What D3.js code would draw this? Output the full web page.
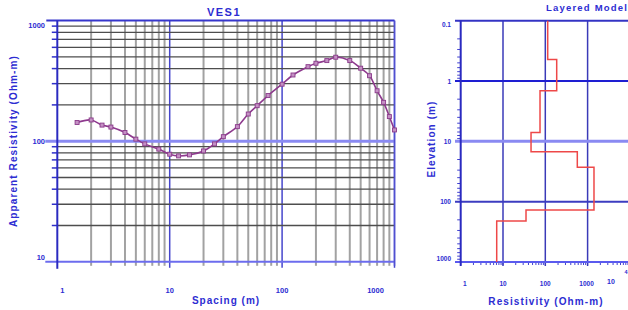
<!DOCTYPE html>
<html><head><meta charset="utf-8">
<script src="https://cdn.jsdelivr.net/npm/d3@7"></script>
<style>
body{margin:0;background:#fff}
svg{display:block}
text{font-family:"Liberation Sans",Arial,sans-serif;font-weight:bold;fill:#2d2dd2}
</style>
</head><body>
<svg id="c" width="628" height="310"></svg>
<script>
// ---- data ----
const spacing = [1.5,2,2.5,3,4,5,6,8,10,12,15,20,25,30,40,50,60,75,100,125,170,200,250,300,400,500,600,700,800,900,1000];
const apparentRes = [143,150,136,131,118,104,95,86,78,75.5,77,83,95,109,132,168,197,239,297,354,415,443,466,497,466,403,349,262,210,160,124];
const layerRes = [114,186,75,46,571,1416,35,7.1];
const layerTop = [0.1,0.44,1.45,7.1,14.9,27,138,210];
const modelBottom = 1000;
const xTickValues = [1,10,100,1000];
const xTickLabels = ["1","10","100","1000"];
const yTickValues = [10,100,1000];
const yTickLabels = ["10","100","1000"];
const resTickValues = [1,10,100,1000,10000];
const resTickLabels = ["1","10","100","1000","10"];
const elevTickValues = [0.1,1,10,100,1000];
const elevTickLabels = ["0.1","1","10","100","1000"];

const svg = d3.select("#c");

// ---- left chart: VES1 ----
const x = d3.scaleLog().domain([1,1000]).range([57.3,394.5]);
const y = d3.scaleLog().domain([10,1000]).range([261.8,20.6]);
const g = svg.append("g");

// vertical grid
x.ticks().forEach(v=>{
  const dec = Math.abs(Math.log10(v)-Math.round(Math.log10(v)))<1e-9;
  if (v===1) return;
  g.append("line").attr("x1",x(v)).attr("x2",x(v)).attr("y1",y(1000)).attr("y2",y(10)+(dec?6:4))
    .attr("stroke",dec?"#4646cc":"#a2a2a2").attr("stroke-width",dec?1.5:2);
});
// horizontal grid
y.ticks().forEach(v=>{
  const dec = Math.abs(Math.log10(v)-Math.round(Math.log10(v)))<1e-9;
  if (dec) return;
  g.append("line").attr("x1",x(1)).attr("x2",x(1000)).attr("y1",y(v)).attr("y2",y(v))
    .attr("stroke","#4e4e4e").attr("stroke-width",1.3);
  g.append("line").attr("x1",x(1)-5.5).attr("x2",x(1)).attr("y1",y(v)).attr("y2",y(v))
    .attr("stroke","#3030c8").attr("stroke-width",1.5);
});
// decade horizontal lines
g.append("line").attr("x1",x(1)-12).attr("x2",x(1000)).attr("y1",y(100)).attr("y2",y(100))
  .attr("stroke","#8a8af2").attr("stroke-width",3);
g.append("line").attr("x1",x(1)-12).attr("x2",x(1000)).attr("y1",y(10)).attr("y2",y(10))
  .attr("stroke","#6c6cee").attr("stroke-width",2);
g.append("line").attr("x1",x(1)-11).attr("x2",x(1000)).attr("y1",y(1000)).attr("y2",y(1000))
  .attr("stroke","#3636cc").attr("stroke-width",2);
// borders
g.append("line").attr("x1",x(1)).attr("x2",x(1)).attr("y1",y(1000)).attr("y2",y(10)+7)
  .attr("stroke","#2a2ac0").attr("stroke-width",2);
g.append("line").attr("x1",x(1000)).attr("x2",x(1000)).attr("y1",y(1000)).attr("y2",y(10)+4)
  .attr("stroke","#5050d0").attr("stroke-width",1.5);

// tick labels
const xdx = [5,0,0,-19];
xTickValues.forEach((v,i)=>{
  g.append("text").attr("x",x(v)+xdx[i]).attr("y",293).attr("text-anchor","middle")
    .attr("font-size",7.5).text(xTickLabels[i]);
});
const ydy = [-5,0,4.5];
yTickValues.forEach((v,i)=>{
  g.append("text").attr("x",45).attr("y",y(v)+ydy[i]+3).attr("text-anchor","end")
    .attr("font-size",7.5).text(yTickLabels[i]);
});

// curve
const pts = spacing.map((s,i)=>[x(s),y(apparentRes[i])]);
g.append("path").attr("d",d3.line().curve(d3.curveCatmullRom.alpha(0.5))(pts))
  .attr("fill","none").attr("stroke","#8e3a8e").attr("stroke-width",1.6);
g.selectAll("rect.pt").data(pts).enter().append("rect")
  .attr("x",d=>d[0]-2).attr("y",d=>d[1]-2).attr("width",4).attr("height",4)
  .attr("fill","#c490c4").attr("stroke","#8a3a8a").attr("stroke-width",0.9);

// titles
g.append("text").attr("x",224).attr("y",16).attr("text-anchor","middle")
  .attr("font-size",11).attr("letter-spacing",1.5).text("VES1");
g.append("text").attr("x",226).attr("y",304).attr("text-anchor","middle")
  .attr("font-size",10).attr("letter-spacing",1).text("Spacing (m)");
g.append("text").attr("transform","translate(17,141) rotate(-90)").attr("text-anchor","middle")
  .attr("font-size",10).attr("letter-spacing",1.1).text("Apparent Resistivity (Ohm-m)");

// ---- right chart: Layered Model ----
const rx = d3.scaleLog().domain([1,10000]).range([460.7,629.9]);
const ry = d3.scaleLog().domain([0.1,1000]).range([20.7,262]);
const h = svg.append("g");

// minor ticks left
ry.ticks().forEach(v=>{
  h.append("line").attr("x1",rx(1)-3.5).attr("x2",rx(1)).attr("y1",ry(v)).attr("y2",ry(v))
    .attr("stroke","#4040d0").attr("stroke-width",1);
});
// minor ticks bottom
rx.ticks().forEach(v=>{
  h.append("line").attr("x1",rx(v)).attr("x2",rx(v)).attr("y1",ry(1000)).attr("y2",ry(1000)+3)
    .attr("stroke","#4040d0").attr("stroke-width",1);
});
// vertical decade lines
[10,100,1000].forEach(v=>{
  h.append("line").attr("x1",rx(v)).attr("x2",rx(v)).attr("y1",ry(0.1)).attr("y2",ry(1000)+4)
    .attr("stroke","#3a3ab8").attr("stroke-width",1.5);
});
// horizontal decade lines
const hs = {0.1:["#3434c4",2],1:["#1e1ed2",2],10:["#8a8af2",3],100:["#3c3cc0",2],1000:["#5a5aee",2]};
elevTickValues.forEach(v=>{
  h.append("line").attr("x1",455).attr("x2",628).attr("y1",ry(v)).attr("y2",ry(v))
    .attr("stroke",hs[v][0]).attr("stroke-width",hs[v][1]);
});
h.append("line").attr("x1",rx(1)).attr("x2",rx(1)).attr("y1",ry(0.1)).attr("y2",ry(1000)+4)
  .attr("stroke","#2a2ac0").attr("stroke-width",2);

// step model
const stepPts = [];
layerRes.forEach((r,i)=>{
  const top = layerTop[i], bot = i+1<layerTop.length?layerTop[i+1]:modelBottom;
  stepPts.push([rx(r),ry(top)],[rx(r),ry(bot)]);
});
h.append("path").attr("d",d3.line()(stepPts)).attr("fill","none")
  .attr("stroke","#ee4848").attr("stroke-width",1.5);

// labels
const rdx = [4,0,0,-1,-19];
resTickValues.forEach((v,i)=>{
  h.append("text").attr("x",rx(v)+rdx[i]).attr("y",i===4?284:286).attr("text-anchor","middle")
    .attr("font-size",i===4?7:6.5).text(resTickLabels[i]);
});
h.append("text").attr("x",626).attr("y",274).attr("text-anchor","middle").attr("font-size",5.5).text("4");
const edy = [4,0,0,0,-4];
elevTickValues.forEach((v,i)=>{
  h.append("text").attr("x",451).attr("y",ry(v)+edy[i]+2.5).attr("text-anchor","end")
    .attr("font-size",6.5).text(elevTickLabels[i]);
});
h.append("text").attr("x",546).attr("y",11).attr("text-anchor","start")
  .attr("font-size",9.5).attr("letter-spacing",1.2).text("Layered Model");
h.append("text").attr("x",546).attr("y",305).attr("text-anchor","middle")
  .attr("font-size",10).attr("letter-spacing",1.1).text("Resistivity (Ohm-m)");
h.append("text").attr("transform","translate(435,139) rotate(-90)").attr("text-anchor","middle")
  .attr("font-size",10).attr("letter-spacing",1.1).text("Elevation (m)");
</script>
</body></html>
